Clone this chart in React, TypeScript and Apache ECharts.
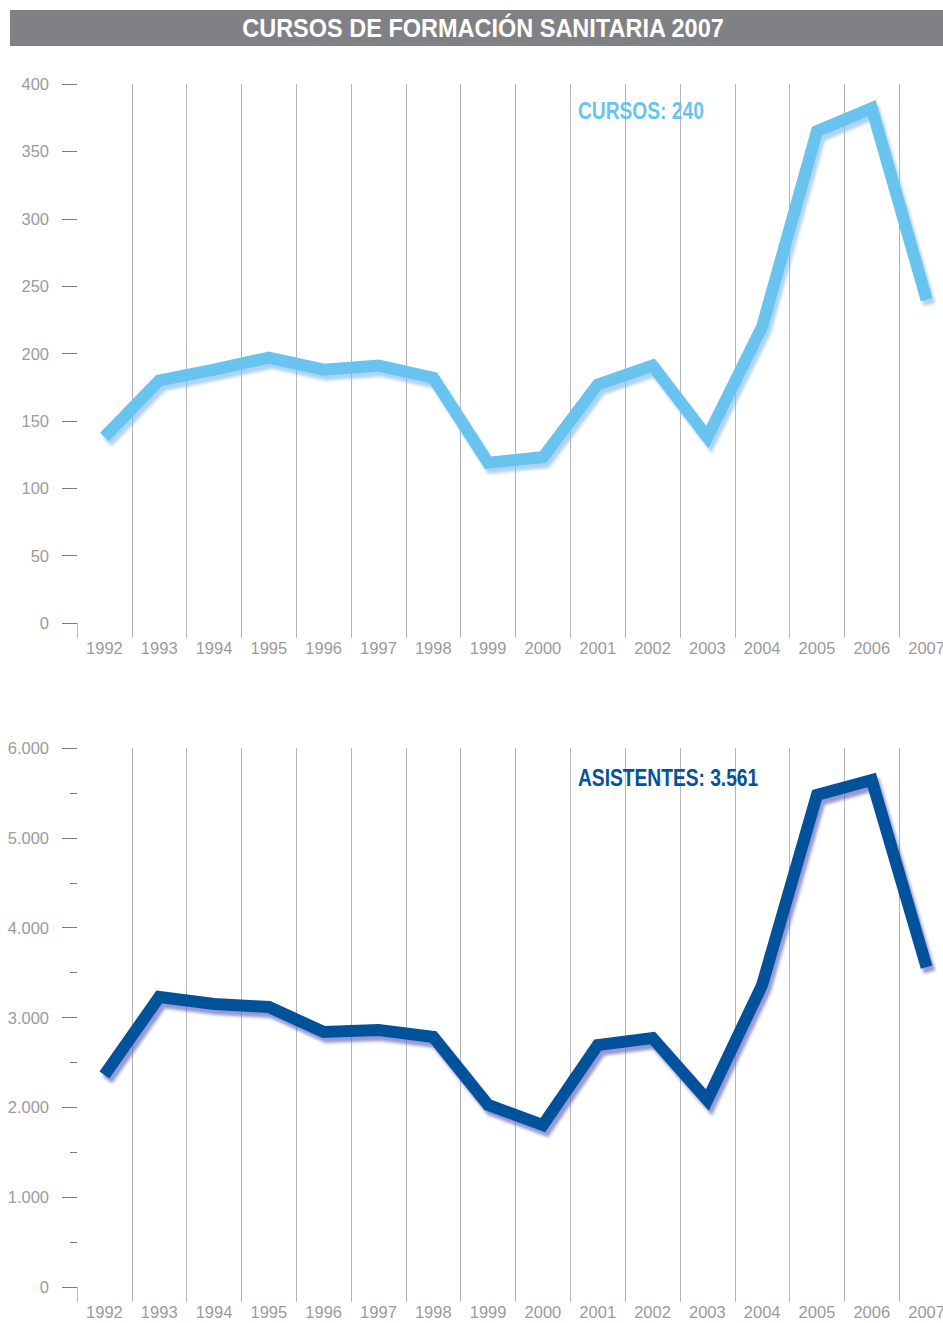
import React, { useEffect, useRef } from "react";
import * as echarts from "echarts";

const years = ["1992","1993","1994","1995","1996","1997","1998","1999","2000","2001","2002","2003","2004","2005","2006","2007"];
const cursos = [138, 180, 188, 197, 188, 191, 182, 119, 123, 177, 191, 138, 220, 365, 382, 240];
const asistentes = [2360, 3228, 3150, 3117, 2839, 2861, 2783, 2026, 1803, 2694, 2772, 2082, 3362, 5477, 5644, 3561];
const titleText = "CURSOS DE FORMACIÓN SANITARIA 2007";
const cursosLabel = "CURSOS: 240";
const asistentesLabel = "ASISTENTES: 3.561";

const FONT = "'Liberation Sans', Arial, sans-serif";
const LABEL = "#9b9b9b";
const GRIDC = "#b4b4b4";
const LIGHT = "#67c4ef";
const DARK = "#03529b";

const fmt = (v: number) => String(v).replace(/\B(?=(\d{3})+(?!\d))/g, ".");

export default function App() {
  const ref = useRef<HTMLDivElement>(null);
  useEffect(() => {
    if (!ref.current) return;
    const chart = echarts.init(ref.current, null, { renderer: "svg" });
    const xAxisBase = (gridIndex: number) => ({
      type: "category" as const,
      gridIndex,
      data: years,
      boundaryGap: true,
      axisLine: { show: false },
      axisTick: { show: true, length: 15, lineStyle: { color: GRIDC, width: 1 } },
      splitLine: { show: true, showMinLine: false, lineStyle: { color: GRIDC, width: 1 } },
      axisLabel: { color: LABEL, fontFamily: FONT, fontSize: 16.5, margin: 16 },
    });
    const yAxisBase = (gridIndex: number) => ({
      type: "value" as const,
      gridIndex,
      axisLine: { show: false },
      axisTick: { show: true, length: 15, lineStyle: { color: "#7a7a7a", width: 1 } },
      splitLine: { show: false },
      axisLabel: { color: LABEL, fontFamily: FONT, fontSize: 16.5, margin: 28 },
    });
    const lineStyle = (color: string, shadow: string) => ({
      width: 12,
      color,
      shadowColor: shadow,
      shadowBlur: 3,
      shadowOffsetX: 3,
      shadowOffsetY: 5,
      join: "miter" as const,
      cap: "butt" as const,
    });
    chart.setOption({
      animation: false,
      grid: [
        { left: 77, width: 877, top: 84, height: 539 },
        { left: 77, width: 877, top: 748, height: 539 },
      ],
      xAxis: [xAxisBase(0), xAxisBase(1)],
      yAxis: [
        { ...yAxisBase(0), min: 0, max: 400, interval: 50 },
        {
          ...yAxisBase(1),
          min: 0,
          max: 6000,
          interval: 1000,
          axisLabel: { ...yAxisBase(1).axisLabel, formatter: (v: number) => fmt(v) },
          minorTick: { show: true, splitNumber: 2, length: 7, lineStyle: { color: "#7a7a7a", width: 1 } },
        },
      ],
      series: [
        {
          type: "line",
          xAxisIndex: 0,
          yAxisIndex: 0,
          data: cursos,
          symbol: "none",
          lineStyle: lineStyle(LIGHT, "rgba(120,180,240,0.6)"),
          z: 5,
        },
        {
          type: "line",
          xAxisIndex: 1,
          yAxisIndex: 1,
          data: asistentes,
          symbol: "none",
          lineStyle: lineStyle(DARK, "rgba(90,100,190,0.65)"),
          z: 5,
        },
      ],
      graphic: [
        { type: "rect", shape: { x: 10, y: 10, width: 940, height: 36 }, style: { fill: "#808184" }, z: 10 },
        {
          type: "text",
          x: 483,
          y: 28,
          scaleX: 0.94,
          style: {
            text: titleText,
            fill: "#ffffff",
            font: `bold 25px ${FONT}`,
            textAlign: "center",
            textVerticalAlign: "middle",
          },
          z: 11,
        },
        {
          type: "text",
          x: 578,
          y: 111,
          scaleX: 0.8,
          style: { text: cursosLabel, fill: LIGHT, font: `bold 24px ${FONT}`, textAlign: "left", textVerticalAlign: "middle" },
          z: 11,
        },
        {
          type: "text",
          x: 578,
          y: 778,
          scaleX: 0.8,
          style: { text: asistentesLabel, fill: DARK, font: `bold 24px ${FONT}`, textAlign: "left", textVerticalAlign: "middle" },
          z: 11,
        },
      ],
    });
    return () => chart.dispose();
  }, []);
  return (
    <div style={{ position: "absolute", left: 0, top: 0, width: 943, height: 1323, overflow: "hidden", background: "#fff" }}>
      <div ref={ref} style={{ width: 960, height: 1323 }} />
    </div>
  );
}
